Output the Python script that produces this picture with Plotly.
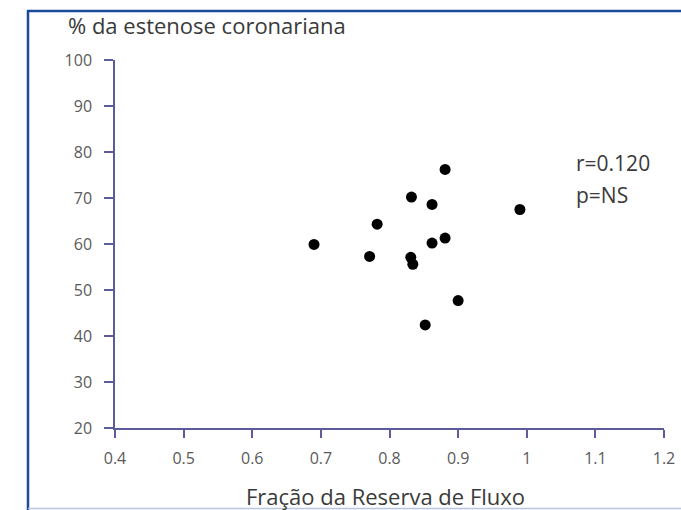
import plotly.graph_objects as go

ffr = [0.881, 0.832, 0.862, 0.990, 0.782, 0.690, 0.862, 0.881, 0.771, 0.831, 0.834, 0.900, 0.852]
stenosis = [76.2, 70.2, 68.6, 67.5, 64.3, 59.9, 60.2, 61.3, 57.3, 57.1, 55.6, 47.7, 42.4]

x_ticks = [0.4, 0.5, 0.6, 0.7, 0.8, 0.9, 1.0, 1.1, 1.2]
x_tick_labels = ["0.4", "0.5", "0.6", "0.7", "0.8", "0.9", "1", "1.1", "1.2"]
y_ticks = [20, 30, 40, 50, 60, 70, 80, 90, 100]

W, H = 681, 510
L, R, T, B = 115, 17, 60, 82
pw, ph = W - L - R, H - T - B

def px(xp):
    return (xp - L) / pw

def py(yp):
    return (H - B - yp) / ph

axis_col = "#5c5c9c"
text_col = "#5a5a5a"
title_col = "#3a3a3a"
font_fam = "Open Sans, Noto Sans, sans-serif"

fig = go.Figure()
fig.add_trace(go.Scatter(
    x=ffr, y=stenosis, mode="markers",
    marker=dict(color="black", size=11),
    cliponaxis=False, showlegend=False, hoverinfo="x+y"))

fig.update_layout(
    width=W, height=H,
    autosize=False,
    margin=dict(l=L, r=R, t=T, b=B, pad=0, autoexpand=False),
    paper_bgcolor="white", plot_bgcolor="white",
    font=dict(family=font_fam, color=text_col, size=16),
    xaxis=dict(range=[0.4, 1.2], tickvals=x_ticks, ticktext=x_tick_labels,
               showgrid=False, zeroline=False, showline=True, automargin=False,
               linecolor=axis_col, linewidth=1.5,
               ticks="outside", ticklen=8, tickwidth=2, tickcolor=axis_col,
               ticklabelstandoff=7,
               tickfont=dict(size=16, color=text_col)),
    yaxis=dict(range=[20, 100], tickvals=y_ticks, automargin=False,
               showgrid=False, zeroline=False, showline=True,
               linecolor=axis_col, linewidth=1.5,
               ticks="outside", ticklen=9, tickwidth=2, tickcolor=axis_col,
               ticklabelstandoff=9,
               tickfont=dict(size=16, color=text_col)),
    annotations=[
        dict(text="% da estenose coronariana", xref="paper", yref="paper",
             x=px(66), y=py(25), xanchor="left", yanchor="middle",
             showarrow=False, font=dict(size=22, color=title_col)),
        dict(text="Fração da Reserva de Fluxo", xref="paper", yref="paper",
             x=px(385), y=py(496), xanchor="center", yanchor="middle",
             showarrow=False, font=dict(size=22, color=title_col)),
        dict(text="r=0.120", xref="paper", yref="paper",
             x=px(574), y=py(163), xanchor="left", yanchor="middle",
             showarrow=False, font=dict(size=21, color=title_col)),
        dict(text="p=NS", xref="paper", yref="paper",
             x=px(574), y=py(195), xanchor="left", yanchor="middle",
             showarrow=False, font=dict(size=21, color=title_col)),
    ],
    shapes=[
        dict(type="line", xref="paper", yref="paper",
             x0=px(28), x1=px(28), y0=py(510), y1=py(10),
             line=dict(color="#1a4a9a", width=2.5)),
        dict(type="line", xref="paper", yref="paper",
             x0=px(27), x1=px(700), y0=py(11), y1=py(11),
             line=dict(color="#1a4a9a", width=2.5)),
        dict(type="line", xref="paper", yref="paper",
             x0=px(28), x1=px(700), y0=py(508.5), y1=py(508.5),
             line=dict(color="#b8c8e0", width=1.5)),
    ],
)

fig.write_html("out.html")
